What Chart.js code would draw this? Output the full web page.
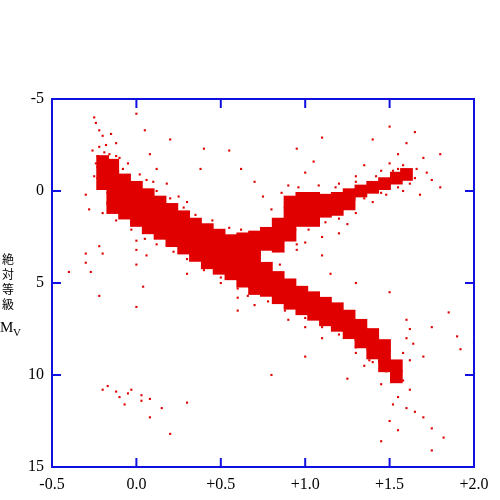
<!DOCTYPE html>
<html>
<head>
<meta charset="utf-8">
<script src="https://cdn.jsdelivr.net/npm/chart.js@4/dist/chart.umd.min.js"></script>
<style>body{margin:0;background:#fff}</style>
</head>
<body>
<canvas id="c" width="500" height="500"></canvas>
<script>
const xTicks = [-0.5, 0, 0.5, 1.0, 1.5, 2.0];
const xTickLabels = ["-0.5", "0.0", "+0.5", "+1.0", "+1.5", "+2.0"];
const yTicks = [-5, 0, 5, 10, 15];
const yTickLabels = ["-5", "0", "5", "10", "15"];

// dense star regions [B-V, Mv]
const densePoints = [
  [-0.2,-1.6],[-0.2,-1.0],[-0.2,-0.4],
  [-0.14,-1.4],[-0.14,-0.8],[-0.14,-0.2],[-0.14,0.4],[-0.14,0.9],
  [-0.07,-0.6],[-0.07,0],[-0.07,0.6],[-0.07,1.2],
  [0,-0.2],[0,0.4],[0,1.0],[0,1.6],
  [0.07,0.2],[0.07,0.8],[0.07,1.4],[0.07,2.0],
  [0.14,0.6],[0.14,1.2],[0.14,1.8],[0.14,2.3],
  [0.21,1.0],[0.21,1.6],[0.21,2.2],[0.21,2.7],
  [0.28,1.4],[0.28,2.0],[0.28,2.6],[0.28,3.1],
  [0.35,1.8],[0.35,2.4],[0.35,3.0],[0.35,3.5],
  [0.42,2.1],[0.42,2.7],[0.42,3.3],[0.42,3.9],
  [0.49,2.4],[0.49,3.0],[0.49,3.6],[0.49,4.2],
  [0.56,2.7],[0.56,3.3],[0.56,3.9],[0.56,4.5],
  [0.63,2.6],[0.63,3.2],[0.63,3.8],[0.63,4.4],[0.63,4.9],
  [0.7,2.5],[0.7,3.1],[0.7,3.7],[0.7,4.3],[0.7,4.9],[0.7,5.3],
  [0.77,2.3],[0.77,2.9],[0.77,4.2],[0.77,4.8],[0.77,5.4],
  [0.84,1.8],[0.84,2.4],[0.84,3.0],[0.84,4.7],[0.84,5.3],[0.84,5.8],
  [0.91,0.6],[0.91,1.2],[0.91,1.8],[0.91,2.4],[0.91,5.1],[0.91,5.7],[0.91,6.1],
  [0.98,0.4],[0.98,1.0],[0.98,1.6],[0.98,5.5],[0.98,6.0],[0.98,6.4],
  [1.05,0.4],[1.05,1.0],[1.05,1.6],[1.05,5.8],[1.05,6.3],[1.05,6.7],
  [1.12,0.5],[1.12,1.1],[1.12,6.1],[1.12,6.6],[1.12,7.0],
  [1.19,0.4],[1.19,1.0],[1.19,6.4],[1.19,6.9],[1.19,7.3],
  [1.26,0.2],[1.26,0.7],[1.26,6.8],[1.26,7.3],[1.26,7.7],
  [1.33,0.0],[1.33,7.3],[1.33,7.8],[1.33,8.2],
  [1.40,-0.2],[1.40,7.8],[1.40,8.3],[1.40,8.8],
  [1.47,-0.4],[1.47,8.4],[1.47,9.0],[1.47,9.5],
  [1.54,-0.7],[1.54,9.5],[1.54,10.1],
  [1.60,-0.9]
];

// scattered stars [B-V, Mv]
const sparsePoints = [
  [-0.25,-4.0],[-0.24,-3.7],[-0.22,-3.3],[-0.2,-3.0],[-0.18,-2.5],[-0.26,-2.2],[-0.15,-3.1],[-0.12,-2.6],
  [-0.1,-1.8],[-0.05,-1.5],[0.0,-4.2],[0.05,-3.3],[0.08,-2.0],[0.12,-1.2],[0.1,-0.5],[0.18,-0.4],
  [0.25,0.3],[0.3,0.6],[0.2,-2.8],[0.4,-2.3],[0.38,-1.2],[-0.3,0.2],[-0.28,1.0],
  [-0.22,-2.4],[-0.19,-2.1],[-0.23,-1.9],[-0.16,-2.0],[-0.24,-1.5],[-0.25,-0.8],[-0.12,-1.9],[-0.08,-1.2],
  [0.02,-0.9],[0.06,-0.6],[0.12,0.0],[0.2,0.4],[0.28,0.9],[0.35,1.3],[0.45,1.6],[0.55,2.0],[0.62,2.1],
  [-0.2,1.2],[-0.12,1.6],[-0.03,2.1],[0.05,2.6],[0.12,2.9],[0.22,3.3],[0.3,3.7],[0.4,4.3],[0.5,4.7],
  [0.6,5.3],[0.66,5.7],[0.78,6.0],[0.88,6.5],[1.0,6.9],[1.1,7.4],[1.2,7.8],[1.3,8.5],[1.38,9.2],
  [0.95,2.9],[1.02,2.1],[1.12,1.7],[1.2,1.5],[1.18,-0.2],[1.08,-0.3],[0.96,-0.2],[0.86,0.1],[1.3,-0.5],
  [1.42,-0.8],[1.52,-1.1],[1.58,-1.4],[1.66,-1.2],[1.65,-0.7],[1.55,-0.2],[1.45,0.1],[1.35,0.4],
  [-0.4,4.4],[-0.3,3.4],[-0.3,3.9],[-0.27,4.4],[-0.22,3.0],[-0.2,3.4],[-0.22,5.7],[0.0,3.2],[0.0,4.0],
  [0.0,2.7],[0.0,6.3],[0.04,5.2],[0.1,1.8],[0.06,3.5],
  [-0.2,10.8],[-0.17,10.6],[-0.12,10.9],[-0.1,11.2],[-0.07,11.6],[-0.03,10.8],[-0.05,11.0],[0.03,11.1],
  [0.08,11.3],[0.03,11.4],[0.08,12.3],[0.15,11.8],[0.2,13.2],[0.3,11.5],
  [0.3,4.5],[0.5,5.0],[0.6,5.8],[0.7,6.2],[0.9,7.0],[1.0,7.4],[1.1,8.0],[1.3,8.8],[1.35,9.5],[1.25,10.2],
  [1.0,9.0],[0.8,10.0],[1.45,10.5],[1.55,11.2],[1.6,11.8],[1.65,12.0],[1.7,12.3],[1.5,12.5],[1.55,13.0],
  [1.75,12.9],[1.82,13.4],[1.75,14.1],[1.45,13.6],[1.62,10.8],[1.58,10.3],[1.52,11.6],[1.48,9.8],[1.4,9.3],
  [1.6,7.0],[1.62,7.5],[1.6,8.0],[1.64,8.3],[1.58,8.8],[1.62,9.2],[1.7,9.0],[1.75,7.4],[1.9,7.9],[1.92,8.6],
  [2.0,8.2],[1.85,6.6],
  [1.0,-1.0],[1.05,-1.6],[0.95,-2.3],[1.1,-2.9],[1.2,-0.4],[1.3,-0.8],[1.35,-1.4],[1.45,-1.1],[1.5,-1.5],
  [1.55,-2.0],[1.6,-2.6],[1.65,-3.2],[1.5,-3.5],[1.4,-2.8],[1.7,-1.8],[1.72,-1.0],[1.75,-0.6],[1.8,-0.2],
  [1.68,0.2],[1.58,0.0],[1.48,0.2],[1.4,0.6],[1.3,1.2],[1.25,1.8],[1.2,2.3],[1.1,2.5],[1.0,2.8],[0.95,3.2],
  [1.1,3.5],[0.8,1.0],[0.75,0.3],[0.7,-0.5],[0.62,-1.2],[0.55,-2.2],[0.9,-0.3],[0.85,4.0],[1.15,4.5],
  [1.3,5.0],[1.5,5.5],[0.6,6.5],[1.8,-2.0],[1.55,-1.2],[1.62,-0.4],[1.45,-0.6],[1.38,-0.2]
];

const toXY = p => ({ x: p[0], y: p[1] });

const framePlugin = {
  id: "frame",
  afterDraw(chart) {
    const { ctx, chartArea: a, scales: { x, y } } = chart;
    ctx.save();
    ctx.strokeStyle = "#1010e0";
    ctx.lineWidth = 2;
    ctx.strokeRect(a.left, a.top, a.right - a.left, a.bottom - a.top);
    ctx.beginPath();
    xTicks.forEach(v => {
      const px = x.getPixelForValue(v);
      ctx.moveTo(px, a.bottom); ctx.lineTo(px, a.bottom - 9);
      ctx.moveTo(px, a.top); ctx.lineTo(px, a.top + 9);
    });
    yTicks.forEach(v => {
      const py = y.getPixelForValue(v);
      ctx.moveTo(a.left, py); ctx.lineTo(a.left + 9, py);
      ctx.moveTo(a.right, py); ctx.lineTo(a.right - 9, py);
    });
    ctx.stroke();

    ctx.fillStyle = "#000";
    ctx.font = "16px 'Liberation Serif'";
    ctx.textAlign = "center";
    ctx.textBaseline = "middle";
    xTicks.forEach((v, i) => ctx.fillText(xTickLabels[i], x.getPixelForValue(v), a.bottom + 18));
    ctx.textAlign = "right";
    yTicks.forEach((v, i) => ctx.fillText(yTickLabels[i], a.left - 8, y.getPixelForValue(v)));

    ctx.textAlign = "center";
    ctx.font = "12px 'Noto Sans CJK JP'";
    ["絶", "対", "等", "級"].forEach((ch, i) => ctx.fillText(ch, 8, 259 + i * 15));
    ctx.font = "15px 'Liberation Serif'";
    ctx.textAlign = "left";
    ctx.fillText("M", 0, 328);
    ctx.font = "11px 'Liberation Serif'";
    ctx.fillText("V", 13, 333);
    ctx.restore();
  }
};

new Chart(document.getElementById("c"), {
  type: "scatter",
  data: {
    datasets: [
      { data: densePoints.map(toXY), pointStyle: "rect", pointRadius: 9, backgroundColor: "#e00000", borderWidth: 0 },
      { data: sparsePoints.map(toXY), pointStyle: "rect", pointRadius: 1.5, backgroundColor: "#e00000", borderWidth: 0 }
    ]
  },
  options: {
    responsive: false,
    animation: false,
    layout: { padding: { left: 52, right: 26, top: 99, bottom: 33 } },
    plugins: { legend: { display: false }, tooltip: { enabled: false } },
    scales: {
      x: { min: -0.5, max: 2.0, display: false },
      y: { min: -5, max: 15, reverse: true, display: false }
    }
  },
  plugins: [framePlugin]
});
</script>
</body>
</html>
